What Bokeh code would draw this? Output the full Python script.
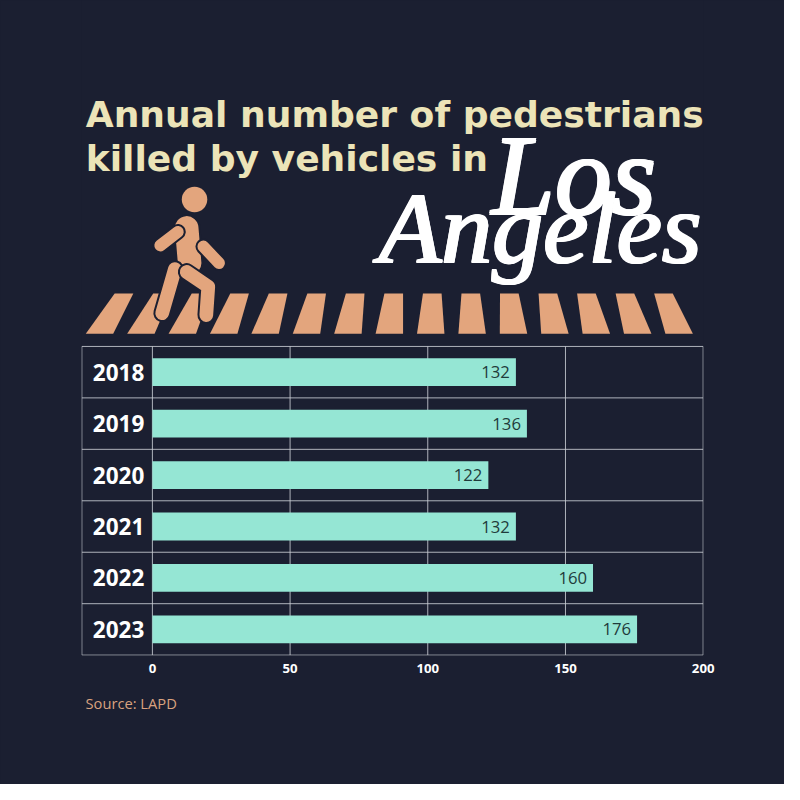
from bokeh.plotting import figure
from bokeh.models import Range1d, FixedTicker, Title
from bokeh.core.properties import value
from bokeh.embed import file_html
from bokeh.resources import INLINE

# ---------- data ----------
years = ["2018", "2019", "2020", "2021", "2022", "2023"]
deaths = [132, 136, 122, 132, 160, 176]
x_ticks = [0, 50, 100, 150, 200]

title_lines = ["Annual number of pedestrians", "killed by vehicles in"]
city_words = ["Los", "Angeles"]
source_text = "Source: LAPD"

BG = "#1b1f31"
CREAM = "#ece4b8"
PEACH = "#e3a57d"
MINT = "#95e6d4"
GRID = "#c9ccd4"
FONT = "Open Sans"

# layout: design made on an 800px square, drawn at 784px
S = 784 / 800
FL, FR, FB = 81, 703, 655          # frame edges on the canvas
ZERO_PX, FULL_PX = 155, 717        # where 0 and 200 sit (design px)
ROW_PX, TABLE_BOTTOM = 52.5, 668
unit = (FULL_PX - ZERO_PX) / 200
n_rows = len(years)
BASE_SHIFT = 0.34                  # bokeh's alphabetic baseline sits this many em low


def fs(px):
    return f"{px * S:.1f}px"


p = figure(width=784, height=784,
           x_range=Range1d((FL / S - ZERO_PX) / unit, (FR / S - ZERO_PX) / unit),
           y_range=Range1d(n_rows + (FB / S - TABLE_BOTTOM) / ROW_PX,
                           n_rows - TABLE_BOTTOM / ROW_PX),
           output_backend="svg", toolbar_location=None,
           min_border_left=FL, min_border_right=784 - FR, min_border_top=0,
           min_border_bottom=784 - FB)
p.background_fill_color = BG
p.border_fill_color = BG
p.styles = {"background-color": BG}
p.outline_line_color = None
p.grid.visible = False
p.yaxis.visible = False

# design-pixel ranges for the header drawing
p.extra_x_ranges = {"px": Range1d(FL / S, FR / S)}
p.extra_y_ranges = {"px": Range1d(FB / S, 0)}

p.xaxis.ticker = FixedTicker(ticks=x_ticks)
p.xaxis.axis_line_color = None
p.xaxis.major_tick_line_color = None
p.xaxis.major_tick_out = 0
p.xaxis.minor_tick_line_color = None
p.xaxis.minor_tick_out = 0
p.xaxis.major_label_standoff = 8
p.xaxis.major_label_text_color = "white"
p.xaxis.major_label_text_font = FONT
p.xaxis.major_label_text_font_style = "bold"
p.xaxis.major_label_text_font_size = fs(13.5)

# ---------- header ----------
title_size = 36.8
p.text(x=[87, 87], y=[129 - BASE_SHIFT * title_size, 174 - BASE_SHIFT * title_size],
       text=title_lines, x_range_name="px", y_range_name="px",
       text_font=value("DejaVu Sans"), text_font_style="bold", text_font_size=fs(title_size),
       text_color=CREAM, text_baseline="alphabetic")

los_size, ang_size = 116, 104
for dx in (0, 1.2, 2.4):
    for dy in (0, 1.2):
        p.text(x=[500 + dx], y=[218 - BASE_SHIFT * los_size + dy], text=city_words[:1],
               x_range_name="px", y_range_name="px",
               text_font=value("Liberation Serif"), text_font_style="italic",
               text_font_size=fs(los_size), text_color="white", text_baseline="alphabetic")
        p.text(x=[385 + dx], y=[267 - BASE_SHIFT * ang_size + dy], text=city_words[1:],
               x_range_name="px", y_range_name="px",
               text_font=value("Liberation Serif"), text_font_style="italic",
               text_font_size=fs(ang_size), text_color="white", text_baseline="alphabetic")

# crosswalk stripes
n = 15
xs, ys = [], []
for i in range(n):
    tc = 126 + i * (676.5 - 126) / (n - 1)
    bc = 101 + i * (692.5 - 101) / (n - 1)
    xs.append([tc - 9.5, tc + 9.5, bc + 14, bc - 14])
    ys.append([299, 299, 340, 340])
p.patches(xs, ys, x_range_name="px", y_range_name="px", fill_color=PEACH, line_color=None)

# walking figure
limbs_x = [[190, 193], [181, 163], [207, 223], [178, 165], [190, 212, 210]]
limbs_y = [[232, 268], [236, 250], [251, 268], [274, 319], [277, 292, 321]]
widths = [24, 12, 12, 14, 14]
for lx, ly, w in zip(limbs_x, limbs_y, widths):
    p.line(lx, ly, x_range_name="px", y_range_name="px", line_width=w * S + 4,
           line_color=BG, line_cap="round", line_join="round")
    p.line(lx, ly, x_range_name="px", y_range_name="px", line_width=w * S,
           line_color=PEACH, line_cap="round", line_join="round")
p.scatter(x=[198], y=[203], size=26 * S, x_range_name="px", y_range_name="px",
          fill_color=PEACH, line_color=None)

# ---------- bar chart ----------
ypos = [i + 0.5 for i in range(n_rows)]
x_left = (83 - ZERO_PX) / unit

# table lines
p.segment(x0=x_ticks, y0=[0] * len(x_ticks), x1=x_ticks, y1=[n_rows] * len(x_ticks),
          line_color=GRID, line_width=1, line_alpha=0.85)
p.segment(x0=[x_left] * (n_rows + 1), y0=list(range(n_rows + 1)),
          x1=[x_ticks[-1]] * (n_rows + 1), y1=list(range(n_rows + 1)),
          line_color=GRID, line_width=1, line_alpha=0.85)
p.segment(x0=[x_left], y0=[0], x1=[x_left], y1=[n_rows],
          line_color=GRID, line_width=1, line_alpha=0.85)

p.hbar(y=ypos, left=0, right=deaths, height=0.54, fill_color=MINT, line_color=None)
p.text(x=deaths, y=ypos, text=[str(v) for v in deaths], x_offset=-6,
       text_align="right", text_baseline="middle", text_font=value(FONT),
       text_font_size=fs(17), text_color="#1f3b3b")
p.text(x=[x_left] * n_rows, y=ypos, text=years, x_offset=11,
       text_align="left", text_baseline="middle", text_font=value(FONT),
       text_font_style="bold", text_font_size=fs(23), text_color="white")

p.add_layout(Title(text=source_text, align="left", offset=4, standoff=31,
                   text_color="#d9a27f", text_font=FONT, text_font_style="normal",
                   text_font_size=fs(15)), "below")

open("out.html", "w").write(file_html(p, INLINE))
